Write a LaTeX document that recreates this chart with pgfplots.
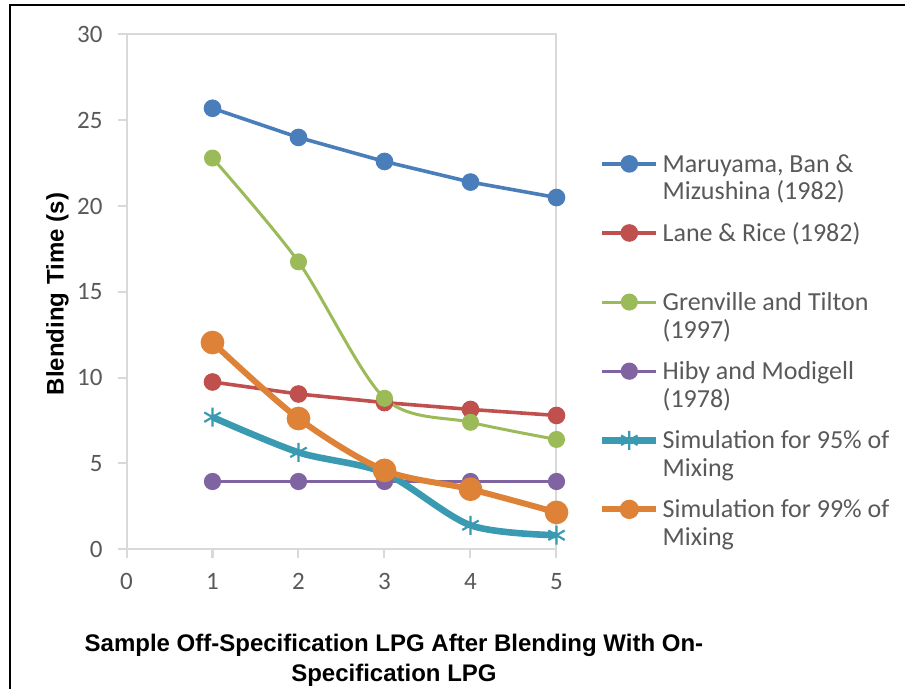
\documentclass[border=0pt]{standalone}
\usepackage{pgfplots}
\pgfplotsset{compat=1.18}
\usepackage{fontspec}
\setmainfont{Carlito}
\newfontfamily\arial{Liberation Sans}

\definecolor{cBlue}{HTML}{4A7EBB}
\definecolor{cRed}{HTML}{C0504D}
\definecolor{cGreen}{HTML}{9BBB59}
\definecolor{cPurple}{HTML}{8064A2}
\definecolor{cTeal}{HTML}{3A9AB2}
\definecolor{cOrange}{HTML}{DE8238}
\definecolor{gridgray}{HTML}{D9D9D9}
\definecolor{tickgray}{HTML}{595959}

\begin{document}
\begin{tikzpicture}
\path[use as bounding box] (0,0) rectangle (452.5pt,344.5pt);
\draw[line width=1pt] (4.75pt,0) -- (4.75pt,341.75pt) -- (452.5pt,341.75pt);
\node[rotate=90, font=\arial\bfseries\fontsize{12}{13}\selectfont] at (28.75pt,197.5pt) {Blending\,\,Time (s)};
\begin{axis}[
    at={(63.25pt,69.85pt)}, anchor=south west,
    scale only axis, width=215pt, height=257.4pt,
    xmin=0, xmax=5, ymin=0, ymax=30,
    xtick={0,1,2,3,4,5}, ytick={0,5,10,15,20,25,30},
    xtick pos=bottom, ytick pos=left,
    tick align=outside, major tick length=4.5pt,
    axis line style={draw=gridgray, line width=1pt},
    tick style={draw=gridgray, line width=1pt},
    /pgf/number format/assume math mode=true,
    tick label style={font=\fontsize{12.5}{14}\selectfont, text=tickgray},
    yticklabel style={xshift=-4pt},
    xticklabel style={yshift=-4pt},
    xlabel={Sample Off-Specification LPG After Blending With On-\\Specification LPG},
    xlabel style={at={(rel axis cs:0.622,0)}, anchor=center, yshift=-55.35pt,
        align=center, font=\arial\bfseries\fontsize{12}{15}\selectfont},
    legend style={at={(rel axis cs:1.098,0.772)}, anchor=north west,
        draw=none, fill=none, inner sep=0pt, row sep=0pt, column sep=1.5pt,
        font=\fontsize{13}{13.8}\selectfont, text=tickgray,
        cells={anchor=base west},
        nodes={inner sep=0pt, anchor=base west, text height=10pt, text depth=24.55pt}},
    legend image code/.code={
        \draw[mark repeat=2,mark phase=2,#1] plot coordinates {(0pt,4.2pt) (13.5pt,4.2pt) (27pt,4.2pt)};},
]
% Maruyama, Ban & Mizushina
\addplot[cBlue, line width=1.8pt, mark=*, mark size=3.5pt, mark options={fill=cBlue, draw=cBlue}]
    coordinates {(1,25.7) (2,24.0) (3,22.6) (4,21.4) (5,20.5)};
\addlegendentry{\begin{tabular}[t]{@{}l@{}}Maruyama, Ban \&\\Mizushina (1982)\end{tabular}}
% Lane & Rice
\addplot[cRed, line width=1.8pt, mark=*, mark size=3.5pt, mark options={fill=cRed, draw=cRed}]
    coordinates {(1,9.75) (2,9.05) (3,8.55) (4,8.15) (5,7.8)};
\addlegendentry{\begin{tabular}[t]{@{}l@{}}Lane \& Rice (1982)\end{tabular}}
% Grenville and Tilton
\addplot[cGreen, line width=1.5pt, smooth, mark=*, mark size=3.5pt, mark options={fill=cGreen, draw=cGreen}]
    coordinates {(1,22.8) (2,16.75) (3,8.8) (4,7.4) (5,6.4)};
\addlegendentry{\begin{tabular}[t]{@{}l@{}}Grenville and Tilton\\(1997)\end{tabular}}
% Hiby and Modigell
\addplot[cPurple, line width=1.6pt, mark=*, mark size=3.5pt, mark options={fill=cPurple, draw=cPurple}]
    coordinates {(1,3.95) (2,3.95) (3,3.95) (4,3.95) (5,3.95)};
\addlegendentry{\begin{tabular}[t]{@{}l@{}}Hiby and Modigell\\(1978)\end{tabular}}
% Simulation 95%
\addplot[cTeal, line width=3.3pt, smooth, mark=asterisk, mark size=4.75pt, mark options={draw=cTeal, line width=1.1pt}]
    coordinates {(1,7.7) (2,5.65) (3,4.45) (4,1.4) (5,0.82)};
\addlegendentry{\begin{tabular}[t]{@{}l@{}}Simulation for 95\% of\\Mixing\end{tabular}}
% Simulation 99%
\addplot[cOrange, line width=3pt, smooth, mark=*, mark size=4.4pt, mark options={fill=cOrange, draw=cOrange},
    legend image post style={mark size=3.3pt}]
    coordinates {(1,12.05) (2,7.62) (3,4.6) (4,3.5) (5,2.15)};
\addlegendentry{\begin{tabular}[t]{@{}l@{}}Simulation for 99\% of\\Mixing\end{tabular}}
\end{axis}
\end{tikzpicture}
\end{document}
